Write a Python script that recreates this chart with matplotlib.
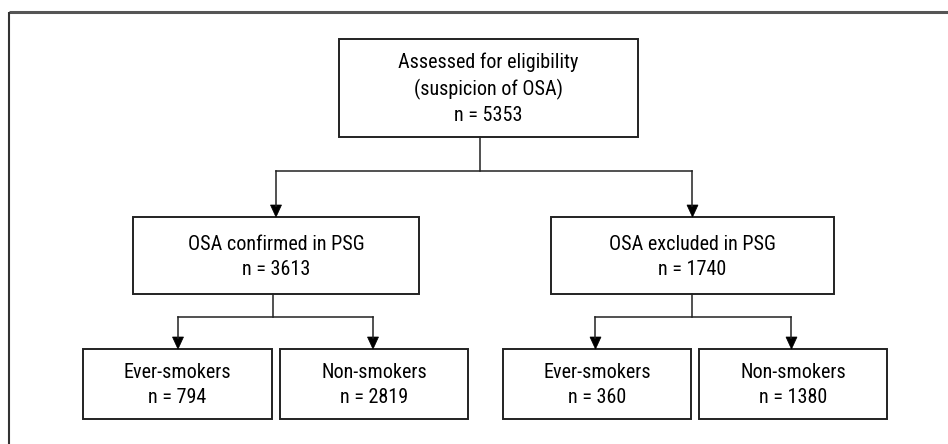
import matplotlib
matplotlib.use('Agg')
import matplotlib.pyplot as plt
from matplotlib.patches import Rectangle, Polygon

# ===================== 数据 =====================
top_label = "Assessed for eligibility\n(suspicion of OSA)"
top_n = 5353
mid_labels = ["OSA confirmed in PSG", "OSA excluded in PSG"]
mid_n = [3613, 1740]
leaf_labels = ["Ever-smokers", "Non-smokers", "Ever-smokers", "Non-smokers"]
leaf_n = [794, 2819, 360, 1380]

# ===================== 版式（像素坐标） =====================
W, H = 948, 444
EDGE = '#222222'
FONT = ['Roboto Condensed', 'DejaVu Sans']
FS = 14.5

top_box = (339, 39, 299, 98)          # x, y, w, h
top_stem_x = 480
mid_boxes = [(133, 217, 286, 77), (551, 217, 283, 77)]
leaf_boxes = [(83, 349, 189, 70), (280, 349, 188, 70),
              (503, 349, 188, 70), (699, 349, 188, 70)]
split_y_top = 171
split_y_mid = 317

fig = plt.figure(figsize=(W / 100, H / 100), dpi=100)
ax = fig.add_axes([0, 0, 1, 1])
ax.set_xlim(0, W)
ax.set_ylim(H, 0)
ax.axis('off')

# 外框（只有上边和左边）
ax.plot([9, W], [12, 12], color='#555555', lw=2.2, solid_capstyle='butt')
ax.plot([9, 9], [12, H], color='#333333', lw=1.5, solid_capstyle='butt')


def draw_box(b, text):
    x, y, w, h = b
    ax.add_patch(Rectangle((x, y), w, h, fill=False, ec=EDGE, lw=1.4))
    ax.text(x + w / 2, y + h / 2 + 1, text, ha='center', va='center',
            fontsize=FS, family=FONT, linespacing=1.4, color='black')


def arrow_down(x, y0, y1):
    # 竖线 + 实心三角箭头
    ax.plot([x, x], [y0, y1 - 11], color=EDGE, lw=1.1)
    ax.add_patch(Polygon([[x - 5.5, y1 - 12], [x + 5.5, y1 - 12], [x, y1]],
                         closed=True, fc='black', ec='black', lw=0.5))


def split(parent_x, parent_bottom, mid_y, child_xs, child_top):
    ax.plot([parent_x, parent_x], [parent_bottom, mid_y], color=EDGE, lw=1.1)
    ax.plot([min(child_xs), max(child_xs)], [mid_y, mid_y], color=EDGE, lw=1.1)
    for cx in child_xs:
        arrow_down(cx, mid_y, child_top)


draw_box(top_box, f"{top_label}\nn = {top_n}")
for b, lab, n in zip(mid_boxes, mid_labels, mid_n):
    draw_box(b, f"{lab}\nn = {n}")
for b, lab, n in zip(leaf_boxes, leaf_labels, leaf_n):
    draw_box(b, f"{lab}\nn = {n}")

centers = lambda bs: [b[0] + b[2] / 2 for b in bs]
mid_cx = centers(mid_boxes)
leaf_cx = centers(leaf_boxes)

split(top_stem_x, top_box[1] + top_box[3], split_y_top, mid_cx, mid_boxes[0][1])
split(mid_cx[0] - 3, mid_boxes[0][1] + mid_boxes[0][3], split_y_mid,
      [mid_cx[0] - 98, mid_cx[0] + 97], leaf_boxes[0][1])
split(mid_cx[1], mid_boxes[1][1] + mid_boxes[1][3], split_y_mid,
      [mid_cx[1] - 97, mid_cx[1] + 99], leaf_boxes[2][1])

fig.savefig('out.png', dpi=100)
